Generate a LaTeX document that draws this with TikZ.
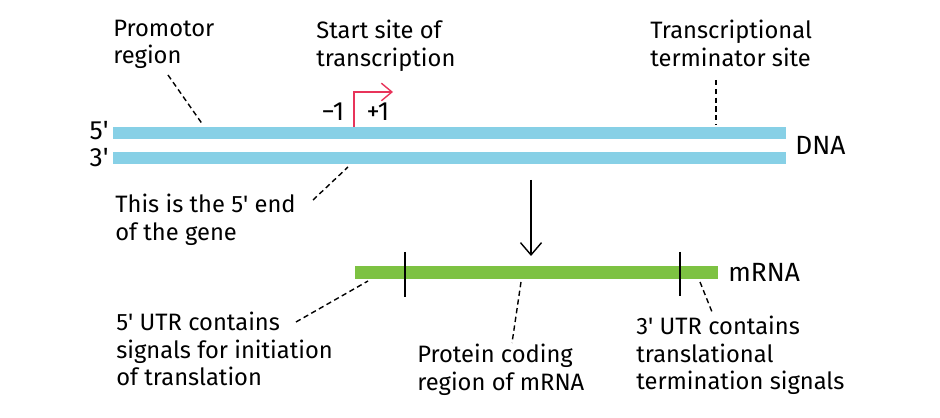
\documentclass[tikz,border=0pt]{standalone}
\usepackage{fontspec}
\setmainfont{Fira Sans}
\usetikzlibrary{arrows.meta}
\definecolor{dnab}{HTML}{87D0E6}
\definecolor{mg}{HTML}{7DC242}
\definecolor{rd}{HTML}{E8345A}
\newcommand{\q}{\textquotesingle}
\begin{document}
\begin{tikzpicture}[x=0.02cm,y=-0.02cm,
  lab/.style={font=\fontsize{13.5}{15.5}\selectfont,align=left,inner sep=0pt},
  big/.style={font=\fontsize{15}{17}\selectfont,inner sep=0pt},
  dsh/.style={densely dashed,thick}]
\useasboundingbox (0,0) rectangle (940,418);
\fill[dnab] (113,127) rectangle (786,139);
\fill[dnab] (113,152) rectangle (786,164);
\fill[mg] (355,266) rectangle (718,279);
\node[big,anchor=east] (f5) at (109,131) {5\q};
\node[big,anchor=east] (t3) at (109,158) {3\q};
\node[big,anchor=west] (dna) at (795,145) {DNA};
\node[big,anchor=west] (mrna) at (728,272) {mRNA};
\coordinate (r0) at (354,127); \coordinate (r1) at (354,92); \coordinate (r2) at (393,92);
\draw[rd,thick,-{Straight Barb[length=6pt,width=10pt]}] (r0)--(r1)--(r2);
\node[big] (m1) at (333,112) {−1};
\node[big] (p1) at (378,112) {+1};
\node[lab,anchor=north west] (prom) at (113,20) {Promotor\\region};
\node[lab,anchor=north west] (start) at (316,20) {Start site of\\transcription};
\node[lab,anchor=north west] (term) at (650,20) {Transcriptional\\terminator site};
\node[lab,anchor=north west] (five) at (115,194) {This is the 5\q{} end\\of the gene};
\node[lab,anchor=north west] (utr5) at (116,312) {5\q{} UTR contains\\signals for initiation\\of translation};
\node[lab,anchor=north west] (prot) at (417,344) {Protein coding\\region of mRNA};
\node[lab,anchor=north west] (utr3) at (636,316) {3\q{} UTR contains\\translational\\termination signals};
\coordinate (a1) at (168,75); \coordinate (a2) at (203,125);
\draw[dsh] (a1)--(a2);
\coordinate (b1) at (716,80); \coordinate (b2) at (716,125);
\draw[dsh] (b1)--(b2);
\coordinate (c1) at (313,200); \coordinate (c2) at (348,167);
\draw[dsh] (c1)--(c2);
\coordinate (d1) at (531,180); \coordinate (d2) at (531,256);
\draw[thick,-{Straight Barb[length=7pt,width=12pt]}] (d1)--(d2);
\coordinate (t1a) at (405,252); \coordinate (t1b) at (405,297);
\draw[thick] (t1a)--(t1b);
\coordinate (t2a) at (680,252); \coordinate (t2b) at (680,296);
\draw[thick] (t2a)--(t2b);
\coordinate (e1) at (296,322); \coordinate (e2) at (368,281);
\draw[dsh] (e1)--(e2);
\coordinate (g1) at (521,282); \coordinate (g2) at (512,343);
\draw[dsh] (g1)--(g2);
\coordinate (h1) at (700,282); \coordinate (h2) at (712,312);
\draw[dsh] (h1)--(h2);
\end{tikzpicture}
\end{document}
